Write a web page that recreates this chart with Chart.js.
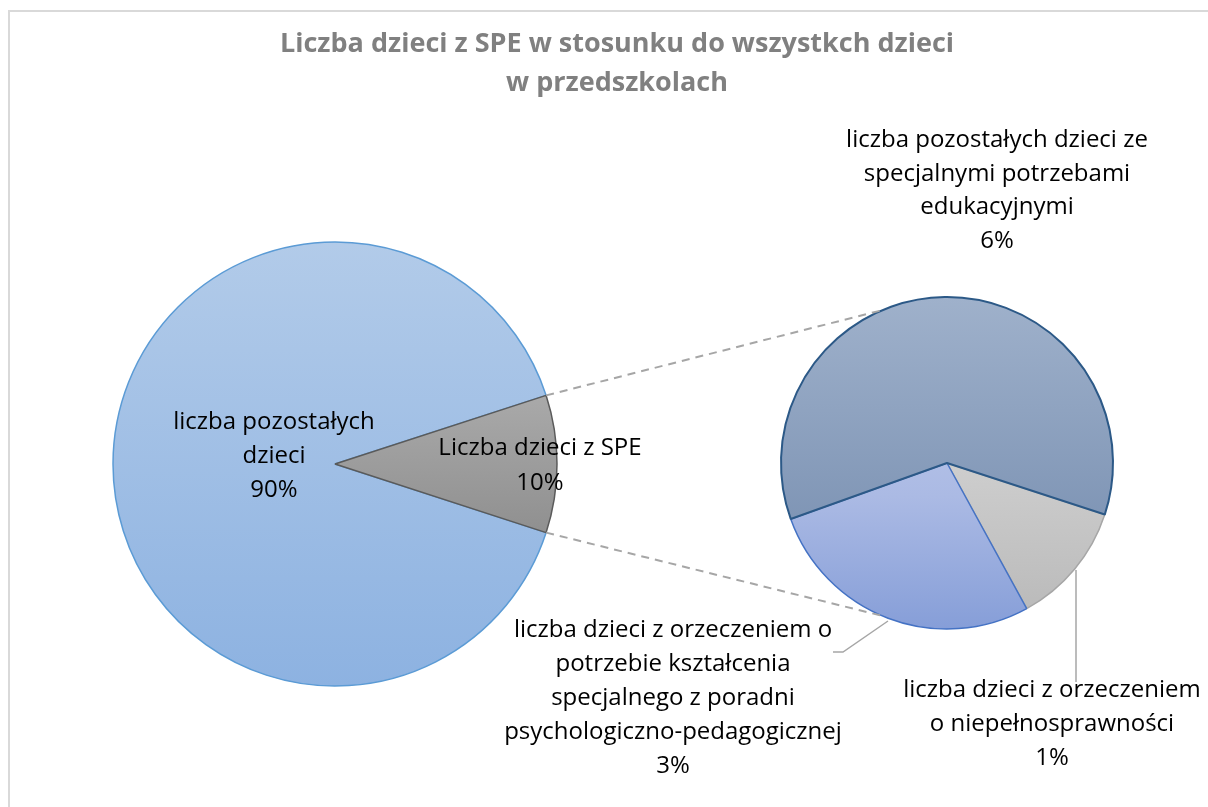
<!DOCTYPE html>
<html><head><meta charset="utf-8">
<script src="https://cdn.jsdelivr.net/npm/chart.js@4.4.1/dist/chart.umd.min.js"></script>
<style>
html,body{margin:0;padding:0;background:#fff;}
#wrap{position:relative;width:1208px;height:807px;overflow:hidden;background:#fff;}
#frame{position:absolute;left:8px;top:10px;width:1300px;height:900px;border-top:2px solid #d9d9d9;border-left:2px solid #d9d9d9;}
canvas{position:absolute;left:0;top:0;}
</style></head><body>
<div id="wrap"><div id="frame"></div>
<canvas id="c1" width="1208" height="807"></canvas>
<canvas id="c2" width="1208" height="807"></canvas></div>
<script>
// ---- data ----
const titleLines = ['Liczba dzieci z SPE w stosunku do wszystkch dzieci', 'w przedszkolach'];
const mainLabels = [['liczba pozostałych', 'dzieci'], ['Liczba dzieci z SPE']];
const mainValues = [90, 10];
const subLabels = [
  ['liczba dzieci z orzeczeniem', 'o niepełnosprawności'],
  ['liczba dzieci z orzeczeniem o', 'potrzebie kształcenia', 'specjalnego z poradni', 'psychologiczno-pedagogicznej'],
  ['liczba pozostałych dzieci ze', 'specjalnymi potrzebami', 'edukacyjnymi']
];
const subValues = [1.2, 2.75, 6.05];

// ---- styles ----
const FONT = "'Open Sans', sans-serif";
const LABEL_SIZE = 24;
const TITLE_SIZE = 27;
const total = mainValues.reduce((a, b) => a + b, 0);
const pct = v => Math.round(v / total * 100) + '%';

function vgrad(stops) {
  return (c) => {
    const ch = c.chart, a = ch.chartArea;
    if (!a) return stops[0][1];
    const g = ch.ctx.createLinearGradient(0, a.top, 0, a.bottom);
    stops.forEach(s => g.addColorStop(s[0], s[1]));
    return g;
  };
}
const mainFills = [
  vgrad([[0, '#b2cbe9'], [1, '#8db2e1']]),
  vgrad([[0, '#c6c6c6'], [1, '#737373']])
];
const subFills = [
  vgrad([[0, '#e4e4e4'], [1, '#b8b8b8']]),
  vgrad([[0, '#c8d2ee'], [0.6, '#abbae4'], [1, '#869ed8']]),
  vgrad([[0, '#9fb1cb'], [1, '#7088ab']])
];

const chart1 = new Chart(document.getElementById('c1'), {
  type: 'pie',
  data: {
    labels: mainLabels.map(l => l.join(' ')),
    datasets: [{
      data: mainValues,
      backgroundColor: c => mainFills[c.dataIndex](c),
      borderColor: ['#5b9bd5', '#5a5a5a'],
      borderWidth: [1.5, 1.5]
    }]
  },
  options: {
    responsive: false, animation: false,
    rotation: 108, radius: 222,
    layout: { padding: { left: 113, right: 651, top: 242, bottom: 121 } },
    plugins: { legend: { display: false }, tooltip: { enabled: false } }
  }
});

function drawLines(ctx, lines, x, y0, step) {
  lines.forEach((t, i) => ctx.fillText(t, x, y0 + i * step));
}

const overlay = {
  id: 'overlay',
  afterDraw(chart) {
    const ctx = chart.ctx;
    const m1 = chart1.getDatasetMeta(0).data;
    const m2 = chart.getDatasetMeta(0).data;
    ctx.save();
    // title
    ctx.fillStyle = '#808080';
    ctx.textAlign = 'center';
    ctx.textBaseline = 'alphabetic';
    ctx.font = 'bold ' + TITLE_SIZE + 'px ' + FONT;
    drawLines(ctx, titleLines, 617, 52, 39);

    // connector dashed lines
    const g = m1[1];
    const c2 = m2[0];
    const r2 = c2.outerRadius;
    const a1 = Math.PI * 113 / 180;
    const pts = [
      [g.x + g.outerRadius * Math.cos(g.startAngle), g.y + g.outerRadius * Math.sin(g.startAngle), c2.x + r2 * Math.cos(-a1), c2.y + r2 * Math.sin(-a1)],
      [g.x + g.outerRadius * Math.cos(g.endAngle), g.y + g.outerRadius * Math.sin(g.endAngle), c2.x + r2 * Math.cos(a1), c2.y + r2 * Math.sin(a1)]
    ];
    ctx.strokeStyle = '#a6a6a6';
    ctx.lineWidth = 2;
    ctx.setLineDash([8, 6]);
    pts.forEach(p => { ctx.beginPath(); ctx.moveTo(p[0], p[1]); ctx.lineTo(p[2], p[3]); ctx.stroke(); });
    ctx.setLineDash([]);

    // leader lines
    ctx.lineWidth = 1.5;
    ctx.beginPath(); ctx.moveTo(888, 621); ctx.lineTo(843, 652); ctx.lineTo(833, 652); ctx.stroke();
    ctx.beginPath(); ctx.moveTo(1076, 570); ctx.lineTo(1076, 682); ctx.stroke();

    // data labels
    ctx.fillStyle = '#000';
    ctx.font = LABEL_SIZE + 'px ' + FONT;
    drawLines(ctx, mainLabels[0].concat([pct(mainValues[0])]), 274, 429, 34);
    drawLines(ctx, mainLabels[1].concat([pct(mainValues[1])]), 540, 455, 35);
    drawLines(ctx, subLabels[2].concat([pct(subValues[2])]), 997, 147, 33.5);
    drawLines(ctx, subLabels[1].concat([pct(subValues[1])]), 673, 637, 34);
    drawLines(ctx, subLabels[0].concat([pct(subValues[0])]), 1052, 697, 34);
    ctx.restore();
  }
};

const chart2 = new Chart(document.getElementById('c2'), {
  type: 'pie',
  data: {
    labels: subLabels.map(l => l.join(' ')),
    datasets: [{
      data: subValues,
      backgroundColor: c => subFills[c.dataIndex](c),
      borderColor: ['#a6a6a6', '#4472c4', '#2c5987'],
      borderWidth: [1.5, 1.5, 2]
    }]
  },
  options: {
    responsive: false, animation: false,
    rotation: 108.1, radius: 166,
    layout: { padding: { left: 781, right: 95, top: 297, bottom: 178 } },
    plugins: { legend: { display: false }, tooltip: { enabled: false } }
  },
  plugins: [overlay]
});
</script>
</body></html>
